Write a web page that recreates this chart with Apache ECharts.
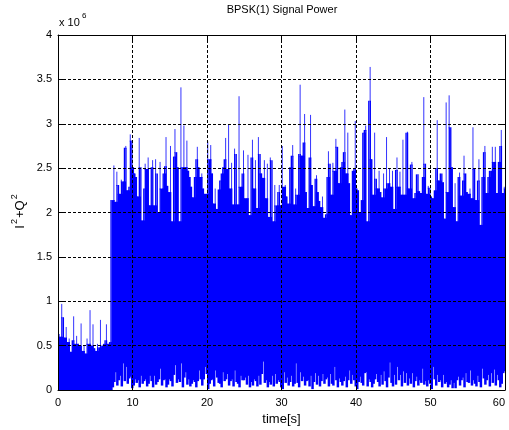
<!DOCTYPE html>
<html><head><meta charset="utf-8">
<script src="https://cdn.jsdelivr.net/npm/echarts@6/dist/echarts.min.js"></script>
<style>html,body{margin:0;padding:0;background:#fff;overflow:hidden}#c{width:509px;height:430px}</style>
</head><body><div id="c"></div>
<script>
const titleText = 'BPSK(1) Signal Power';
const xLabel = 'time[s]';
const yScaleText = 'x 10';
const yScaleExp = '6';
const sampleStep = 0.2; // seconds between envelope readings
const xTicks = [0, 10, 20, 30, 40, 50, 60];
const yTicks = [0, 0.5, 1, 1.5, 2, 2.5, 3, 3.5, 4];

// upper envelope of I^2+Q^2 (x10^6), one reading every 0.2 s from t = 0 to 60 s
const peakValues = [
  // 0.0 - 6.8 s
  0.63,0.60,0.97,0.82,0.59,0.71,0.54,0.58,0.43,0.56,0.83,0.52,0.61,0.52,0.50,0.75,0.44,0.50,0.41,0.58,
  0.52,0.90,0.50,0.74,0.47,0.44,0.52,0.48,0.79,0.50,0.52,0.56,0.74,0.52,0.54,
  // 7.0 - 9.8 s
  2.14,2.14,2.53,2.12,2.46,2.31,2.21,2.37,2.35,2.73,2.75,2.25,2.29,2.88,2.81,
  // 10.0 - 14.8 s
  2.51,2.44,2.40,2.18,2.84,2.51,1.91,2.27,2.55,2.49,2.62,2.08,2.51,2.59,2.08,2.60,2.44,2.00,2.57,2.27,2.44,2.52,2.85,2.30,2.23,
  // 15.0 - 19.8 s
  2.75,1.90,2.63,2.94,2.68,2.51,1.90,3.41,2.51,2.98,2.51,2.81,2.47,2.40,2.29,2.17,2.40,2.60,2.74,2.51,2.40,2.44,2.27,2.21,2.21,
  // 20.0 - 24.8 s
  2.80,2.60,2.76,2.44,2.10,2.27,2.04,2.26,2.36,2.44,2.51,2.60,2.84,2.49,2.99,2.27,2.56,2.09,2.72,2.66,2.09,3.31,2.29,2.44,2.70,
  // 25.0 - 29.8 s
  2.16,2.16,2.65,1.97,2.62,2.82,2.27,2.59,2.05,2.85,2.66,2.44,2.39,2.59,2.16,2.55,1.95,2.62,2.59,1.90,2.31,2.08,2.23,2.31,2.08,
  // 30.0 - 34.8 s
  2.75,2.29,2.31,2.18,2.10,2.51,2.64,2.76,2.09,2.27,2.20,2.66,3.44,2.64,2.79,3.11,2.23,2.05,2.62,3.10,2.31,2.07,2.38,2.42,2.23,
  // 35.0 - 39.8 s
  2.13,2.06,2.18,1.94,1.98,2.40,2.69,2.55,2.20,2.56,2.47,2.83,2.74,2.33,2.51,2.57,2.68,3.16,2.44,2.90,2.33,1.97,2.47,2.49,3.03,
  // 40.0 - 44.8 s
  2.27,2.25,2.00,2.14,2.90,2.93,2.98,1.90,3.26,3.64,2.60,2.20,2.90,2.38,2.27,2.47,2.23,2.17,2.44,2.27,2.85,2.33,2.50,2.29,2.47,
  // 45.0 - 49.8 s
  2.04,2.48,2.62,2.29,2.46,2.20,2.82,2.20,2.90,2.91,2.27,2.54,2.57,2.16,2.22,2.43,2.43,2.24,2.22,2.40,3.30,2.55,2.21,2.30,2.28,
  // 50.0 - 54.8 s
  2.18,2.16,2.25,2.50,3.04,2.36,2.44,2.44,2.34,1.93,3.24,2.23,3.32,2.96,2.51,2.06,2.33,1.90,2.40,2.45,2.19,2.36,2.64,2.44,2.23,
  // 55.0 - 60.0 s
  2.21,2.27,2.16,2.96,2.49,2.14,2.36,2.60,1.86,2.40,2.68,2.75,2.22,2.40,2.47,2.47,2.74,2.57,2.74,2.22,2.57,2.75,2.93,2.22,2.29,2.27
];

// lower envelope of I^2+Q^2 (x10^6), same time grid
const troughValues = [
  // 0.0 - 6.8 s
  0,0,0,0,0,0,0,0,0,0,0,0,0,0,0,0,0,0,0,0,0,0,0,0,0,0,0,0,0,0,0,0,0,0,0,
  // 7.0 - 9.8 s
  0.00,0.03,0.09,0.20,0.05,0.11,0.16,0.04,0.30,0.10,0.26,0.07,0.13,0.15,0.02,
  // 10.0 - 14.8 s
  0.05,0.12,0.08,0.11,0.03,0.16,0.07,0.10,0.12,0.04,0.07,0.16,0.10,0.03,0.16,0.06,0.09,0.12,0.24,0.05,0.11,0.12,0.03,0.06,0.12,
  // 15.0 - 19.8 s
  0.10,0.04,0.17,0.28,0.08,0.12,0.09,0.30,0.03,0.14,0.20,0.06,0.12,0.04,0.07,0.11,0.09,0.03,0.10,0.22,0.12,0.05,0.12,0.26,0.18,
  // 20.0 - 24.8 s
  0.01,0.07,0.11,0.12,0.04,0.22,0.14,0.08,0.07,0.03,0.20,0.10,0.12,0.18,0.05,0.10,0.12,0.04,0.22,0.09,0.07,0.03,0.16,0.11,0.11,
  // 25.0 - 29.8 s
  0.14,0.06,0.16,0.03,0.09,0.05,0.12,0.10,0.04,0.16,0.06,0.18,0.32,0.08,0.11,0.03,0.09,0.06,0.16,0.04,0.18,0.07,0.11,0.09,0.03,
  // 30.0 - 34.8 s
  0.01,0.20,0.08,0.14,0.05,0.09,0.16,0.04,0.07,0.30,0.08,0.03,0.20,0.10,0.15,0.05,0.10,0.11,0.04,0.16,0.01,0.09,0.19,0.06,0.16,
  // 35.0 - 39.8 s
  0.04,0.10,0.18,0.07,0.12,0.14,0.04,0.18,0.07,0.05,0.26,0.11,0.03,0.13,0.09,0.05,0.10,0.15,0.03,0.11,0.22,0.07,0.17,0.11,0.04,
  // 40.0 - 44.8 s
  0.01,0.09,0.15,0.08,0.05,0.19,0.20,0.04,0.12,0.09,0.03,0.07,0.12,0.18,0.09,0.04,0.17,0.06,0.21,0.10,0.03,0.14,0.31,0.08,0.04,
  // 45.0 - 49.8 s
  0.17,0.06,0.26,0.11,0.17,0.04,0.21,0.08,0.19,0.05,0.13,0.07,0.19,0.03,0.10,0.15,0.05,0.11,0.08,0.24,0.06,0.10,0.04,0.11,0.07,
  // 50.0 - 54.8 s
  0.01,0.26,0.12,0.05,0.17,0.09,0.11,0.03,0.17,0.07,0.09,0.03,0.06,0.11,0.02,0.08,0.02,0.11,0.15,0.05,0.11,0.14,0.03,0.19,0.09,
  // 55.0 - 60.0 s
  0.08,0.22,0.05,0.11,0.07,0.04,0.16,0.09,0.03,0.24,0.13,0.06,0.11,0.17,0.04,0.19,0.08,0.23,0.05,0.17,0.11,0.03,0.07,0.19,0.21,0.24
];

// one record per reading: [time, upper, lower]
const envelope = peakValues.map(function (p, i) {
  return [i * sampleStep, p, troughValues[i]];
});

const FONT = '"Liberation Sans", Arial, Helvetica, sans-serif';
const BLUE = '#0000ff';
const chart = echarts.init(document.getElementById('c'), null, { renderer: 'canvas' });

const axisCommon = {
  type: 'value',
  axisLine: { show: true, onZero: false, lineStyle: { color: '#000', width: 1 } },
  axisTick: { show: true, inside: true, length: 5, lineStyle: { color: '#000', width: 1 } },
  z: 5
};

function renderEnvelope(params, api) {
  const i = params.dataIndexInside;
  const n = params.dataInsideLength;
  const t = api.value(0);
  const hi = api.value(1);
  const lo = api.value(2);
  const prevHi = i > 0 ? api.value(1, i - 1) : hi;
  const nextHi = i < n - 1 ? api.value(1, i + 1) : hi;
  const base = Math.min(hi, prevHi, nextHi);
  const shoulder = Math.min(hi, Math.max(prevHi, nextHi));
  const pBase = api.coord([t, base]);
  const pBottom = api.coord([t + sampleStep, lo]);
  const pShoulder = api.coord([t, shoulder]);
  const pPeak = api.coord([t + sampleStep / 2, hi]);
  const w = pBottom[0] - pBase[0];
  const children = [{
    type: 'rect',
    shape: { x: pBase[0], y: pBase[1], width: w + 1, height: pBottom[1] - pBase[1] },
    style: { fill: BLUE }
  }];
  if (shoulder > base) {
    children.push({
      type: 'rect',
      shape: { x: pBase[0] + w * 0.15, y: pShoulder[1], width: w * 0.9, height: pBase[1] - pShoulder[1] + 1 },
      style: { fill: BLUE }
    });
  }
  if (hi > shoulder) {
    // a reading that sticks out above both neighbours is a thin spike
    children.push({
      type: 'line',
      shape: { x1: pPeak[0], y1: pPeak[1], x2: pPeak[0], y2: pShoulder[1] + 1 },
      style: { stroke: BLUE, lineWidth: 1, opacity: 0.8 }
    });
  }
  return { type: 'group', children: children };
}

chart.setOption({
  animation: false,
  backgroundColor: '#fff',
  textStyle: { fontFamily: FONT },
  title: {
    text: titleText, left: 282, top: 4, textAlign: 'center', padding: 0,
    textStyle: { fontFamily: FONT, fontSize: 11, fontWeight: 'normal', color: '#000' }
  },
  graphic: [
    { type: 'text', left: 59, top: 17, style: { text: yScaleText, font: '11px ' + FONT, fill: '#000' } },
    { type: 'text', left: 82, top: 12, style: { text: yScaleExp, font: '8px ' + FONT, fill: '#000' } },
    {
      type: 'text', x: 19, y: 211, rotation: Math.PI / 2, z: 10,
      style: {
        text: '{b|I}{s|2}{b|+Q}{s|2}', align: 'center', verticalAlign: 'middle',
        rich: {
          b: { fontSize: 13, fontFamily: FONT, fill: '#000', verticalAlign: 'bottom', lineHeight: 16 },
          s: { fontSize: 9, fontFamily: FONT, fill: '#000', verticalAlign: 'bottom', lineHeight: 16, padding: [0, 1, 8, 1] }
        }
      }
    }
  ],
  grid: { left: 58, top: 35, width: 447, height: 355, containLabel: false, outerBoundsMode: 'none', show: false },
  xAxis: [
    Object.assign({}, axisCommon, {
      position: 'bottom', min: xTicks[0], max: xTicks[xTicks.length - 1], interval: 10,
      axisLabel: { color: '#000', fontSize: 11, fontFamily: FONT, margin: 7, alignMaxLabel: 'right' },
      splitLine: { show: true, lineStyle: { color: '#000', type: [3, 2], width: 1 } },
      name: xLabel, nameLocation: 'middle', nameGap: 23,
      nameTextStyle: { color: '#000', fontSize: 13, fontFamily: FONT }
    }),
    Object.assign({}, axisCommon, {
      position: 'top', min: xTicks[0], max: xTicks[xTicks.length - 1], interval: 10,
      axisLabel: { show: false }, splitLine: { show: false }
    })
  ],
  yAxis: [
    Object.assign({}, axisCommon, {
      position: 'left', min: yTicks[0], max: yTicks[yTicks.length - 1], interval: 0.5,
      axisLabel: { color: '#000', fontSize: 11, fontFamily: FONT, margin: 6 },
      splitLine: { show: true, lineStyle: { color: '#000', type: [3, 2], width: 1 } }
    }),
    Object.assign({}, axisCommon, {
      position: 'right', min: yTicks[0], max: yTicks[yTicks.length - 1], interval: 0.5,
      axisLabel: { show: false }, splitLine: { show: false }
    })
  ],
  series: [{
    type: 'custom',
    data: envelope,
    encode: { x: 0, y: [1, 2] },
    xAxisIndex: 0, yAxisIndex: 0,
    clip: true, silent: true, z: 2,
    renderItem: renderEnvelope
  }]
});
</script>
</body></html>
